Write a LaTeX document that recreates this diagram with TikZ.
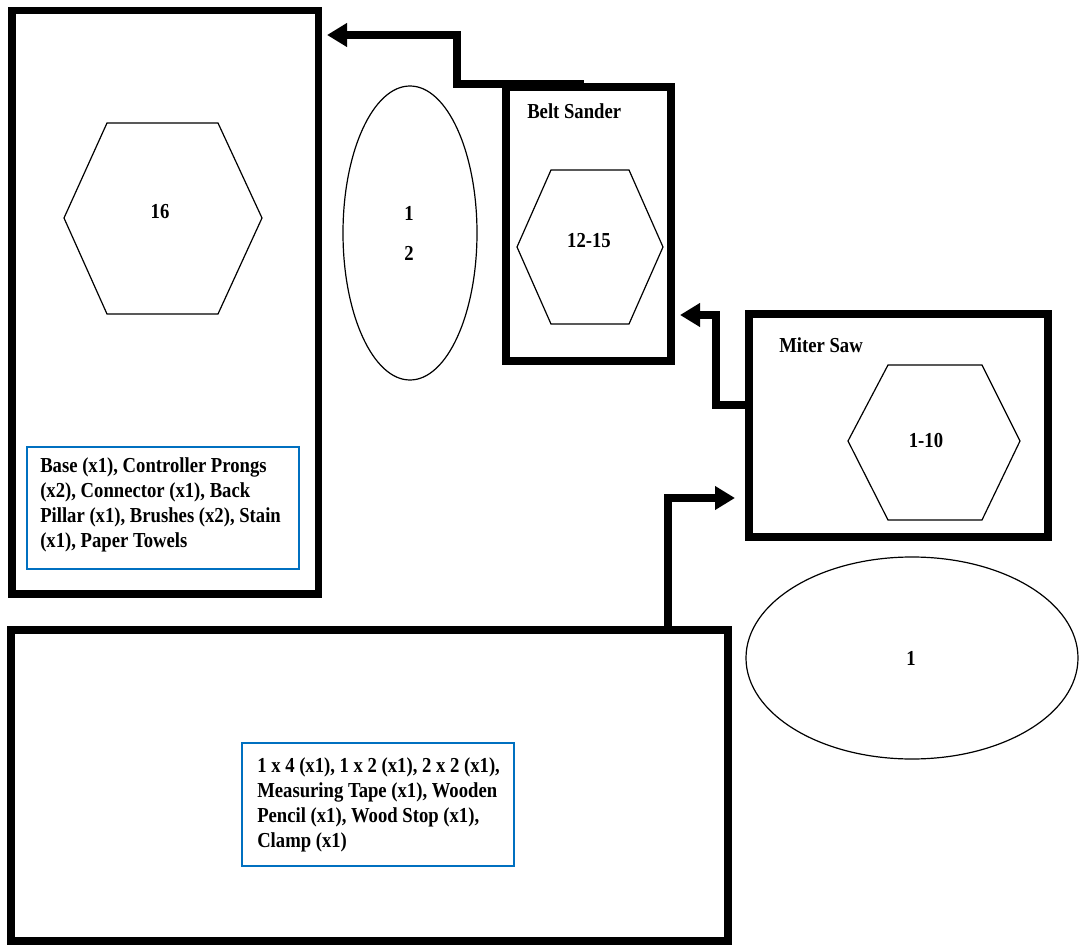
\documentclass[tikz,border=0pt]{standalone}
\usepackage{fontspec}
\setmainfont{Liberation Serif}
\newfontfamily\narrowserif[FakeStretch=0.875]{Liberation Serif}
\usetikzlibrary{arrows.meta,fit,calc,shapes.geometric}
\definecolor{boxblue}{RGB}{0,112,192}
\begin{document}
\begin{tikzpicture}[x=0.75pt,y=-0.75pt,
  frame/.style={draw=black, line width=5.6pt, inner sep=0pt, outer sep=0pt},
  listbox/.style={draw=boxblue, line width=1.5pt, inner sep=0pt, outer sep=0pt},
  hexa/.style={draw=black, line width=0.9pt, line join=miter},
  oval/.style={draw=black, line width=0.9pt, ellipse, inner sep=0pt},
  conn/.style={draw=black, line width=5.3pt, line join=miter, -{Triangle[length=15pt,width=17pt]}},
  lbl/.style={font=\narrowserif\fontsize{16}{18}\selectfont\bfseries, inner sep=0pt},
  list/.style={font=\narrowserif\fontsize{16}{18.75}\selectfont\bfseries, align=left, inner sep=0pt, anchor=north west}]

\useasboundingbox (0,0) rectangle (1079,945);
\fill[white] (0,0) rectangle (1079,945);

% station frames
\node[frame, fit={(12,10.5) (318.5,594)}] (lb) {};
\node[frame, fit={(506,87) (671,361)}] (bs) {};
\node[frame, fit={(749,314) (1048,537)}] (ms) {};
\node[frame, fit={(11,630) (728,941)}] (bb) {};

% step hexagons
\draw[hexa] (64,218) -- (107,123) -- (218,123) -- (262,218) -- (218,314) -- (107,314) -- cycle;
\node[lbl] (n16) at (160,212) {16};
\draw[hexa] (517,247) -- (551,170) -- (629,170) -- (663,247) -- (629,324) -- (551,324) -- cycle;
\node[lbl] (n1215) at (589,241) {12-15};
\draw[hexa] (848,441) -- (888,365) -- (982,365) -- (1020,441) -- (982,520) -- (888,520) -- cycle;
\node[lbl] (n110) at (926,441) {1-10};

% ovals
\node[oval, minimum width=100.5pt, minimum height=220.5pt] (e1) at (410,233) {};
\node[lbl] (e1a) at (409,213) {1};
\node[lbl] (e1b) at (409,253) {2};
\node[oval, minimum width=249pt, minimum height=151.5pt] (e2) at (912,658) {};
\node[lbl] (e2a) at (911,658) {1};

% station titles
\node[lbl, anchor=west] (tbs) at (527,111) {Belt Sander};
\node[lbl, anchor=west] (tms) at (779,345) {Miter Saw};

% parts lists
\node[listbox, fit={(27,447) (299,569)}] (l1) {};
\node[list] (t1) at (40,457) {Base (x1), Controller Prongs\\(x2), Connector (x1), Back\\Pillar (x1), Brushes (x2), Stain\\(x1), Paper Towels};
\node[listbox, fit={(242,743) (514,866)}] (l2) {};
\node[list] (t2) at (257,757) {1 x 4 (x1), 1 x 2 (x1), 2 x 2 (x1),\\Measuring Tape (x1), Wooden\\Pencil (x1), Wood Stop (x1),\\Clamp (x1)};

% flow connectors
\coordinate (k2) at (457,35);
\draw[conn] ($(bs.north)+(-5,-3)$) -| (k2) -- ($(k2 -| lb.east)+(8.5,0)$);
\coordinate (k3) at (716,405);
\coordinate (k4) at (716,315);
\draw[conn] (k3 -| ms.west) -- (k3) -- (k4) -- ($(k4 -| bs.east)+(9,0)$);
\coordinate (k5) at (668,498);
\draw[conn] (k5 |- bb.north) -- (k5) -- ($(k5 -| ms.west)+(-14,0)$);
\end{tikzpicture}
\end{document}
